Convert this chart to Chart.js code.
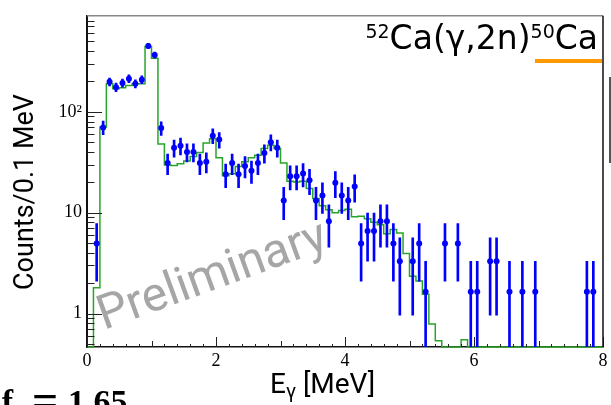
<!DOCTYPE html>
<html>
<head>
<meta charset="utf-8">
<script src="https://cdn.jsdelivr.net/npm/chart.js@4.4.1/dist/chart.umd.min.js"></script>
<style>
  body { margin: 0; background: #fff; }
  canvas { display: block; }
</style>
</head>
<body>
<canvas id="spectrum" width="611" height="405"></canvas>
<script>
// 0.1 MeV bins from 0 to 8 MeV
var binWidth = 0.1;
var nBins = 80;
var countScale = 1.65;

// measured spectrum (counts times f), 0 = empty bin
var counts = [
  0, 4.95, 70, 198, 175, 193, 213, 190, 208, 449,
  365, 69, 31, 44, 46, 40, 40, 31, 32, 58,
  53, 24, 31, 24, 29, 26, 31, 39, 50, 44,
  13.2, 23, 23, 24.4, 21, 13.2, 14.8, 8.25, 19.8, 14.8,
  13.2, 18.2, 4.95, 6.6, 6.6, 8.25, 8.25, 4.95, 3.3, 0,
  3.3, 4.95, 1.65, 0, 0, 4.95, 0, 4.95, 0, 1.65,
  1.65, 0, 3.3, 3.3, 0, 1.65, 0, 1.65, 0, 1.65,
  0, 0, 0, 0, 0, 0, 0, 1.65, 1.65, 0
];

// simulated response, same binning
var simulated = [
  0, 1.8, 70.6, 189, 169, 173, 182, 190, 190, 443,
  339, 48, 29.7, 29.3, 30.5, 32.6, 36, 39.4, 49, 54,
  35, 23.2, 24.3, 28.7, 32, 35, 37, 43.3, 46.6, 43.3,
  31, 20.5, 20.2, 20.5, 17.4, 13.8, 11.7, 10.7, 10, 10.5,
  10.8, 9.1, 9.2, 8.7, 8.05, 7.6, 6.2, 6.8, 6.3, 3.95,
  2.34, 2.1, 1.56, 0.79, 0.54, 0, 0, 0, 0.55, 0,
  0, 0, 0, 0, 0, 0, 0, 0, 0, 0,
  0, 0, 0, 0, 0, 0, 0, 0, 0, 0
];

var xTicks = [0, 2, 4, 6, 8];
var yTickValues = [1, 10, 100];
var yTickLabels = ['1', '10', '10\u00b2'];
var yMin = 0.467;
var yMax = 893;

// histogram outline: left bin edges, closed at 8 MeV
var histLine = [];
for (var i = 0; i < nBins; i++) {
  histLine.push({ x: i * binWidth, y: simulated[i] > 0 ? simulated[i] : yMin });
}
histLine.push({ x: nBins * binWidth, y: histLine[nBins - 1].y });

// data points at bin centres, Poisson errors on the scaled counts
var points = [];
var errors = [];
for (var j = 0; j < nBins; j++) {
  if (counts[j] <= 0) continue;
  var c = (j + 0.5) * binWidth;
  var err = Math.sqrt(counts[j] * countScale);
  points.push({ x: c, y: counts[j] });
  errors.push({ x: c, y: [Math.max(counts[j] - err, yMin), counts[j] + err] });
}

var decorations = {
  id: 'decorations',
  afterDatasetsDraw: function(chart) {
    var ctx = chart.ctx;
    var a = chart.chartArea;
    var xs = chart.scales.x;
    var ys = chart.scales.y;
    ctx.save();

    // inward ticks
    ctx.strokeStyle = '#222';
    ctx.lineWidth = 1;
    ctx.beginPath();
    for (var i = 0; i <= 40; i++) {
      var px = Math.round(xs.getPixelForValue(i * 0.2)) + 0.5;
      var len = i % 10 == 0 ? 10 : (i % 5 == 0 ? 6 : 3);
      ctx.moveTo(px, a.bottom);
      ctx.lineTo(px, a.bottom - len);
    }
    for (var e = -1; e <= 2; e++) {
      for (var m = 1; m <= 9; m++) {
        var v = m * Math.pow(10, e);
        if (v < yMin || v > yMax) continue;
        var py = Math.round(ys.getPixelForValue(v)) + 0.5;
        ctx.moveTo(a.left, py);
        ctx.lineTo(a.left + (m == 1 ? 15 : 7.5), py);
      }
    }
    ctx.stroke();

    // frame top and right
    ctx.strokeStyle = '#888';
    ctx.lineWidth = 1.5;
    ctx.beginPath();
    ctx.moveTo(a.left, a.top);
    ctx.lineTo(a.right, a.top);
    ctx.stroke();
    ctx.strokeStyle = '#111';
    ctx.beginPath();
    ctx.moveTo(a.right, a.top);
    ctx.lineTo(a.right, a.bottom);
    ctx.stroke();

    // axis titles
    ctx.fillStyle = '#000';
    ctx.font = '27px Roboto';
    ctx.textBaseline = 'alphabetic';
    ctx.save();
    ctx.translate(33, 192);
    ctx.rotate(-Math.PI / 2);
    ctx.textAlign = 'center';
    ctx.fillText('Counts/0.1 MeV', 0, 0);
    ctx.restore();

    ctx.textAlign = 'left';
    var tx = 270;
    ctx.font = '28px Roboto';
    ctx.fillText('E', tx, 393);
    tx += ctx.measureText('E').width;
    ctx.font = '20px Roboto';
    ctx.fillText('\u03b3', tx, 398);
    tx += ctx.measureText('\u03b3').width;
    ctx.font = '28px Roboto';
    ctx.fillText(' [MeV]', tx, 393);

    // reaction label, right aligned
    var parts = [
      { t: '52', f: '19px "DejaVu Sans"', y: 38 },
      { t: 'Ca(\u03b3,2n)', f: '33px "DejaVu Sans"', y: 49 },
      { t: '50', f: '19px "DejaVu Sans"', y: 38 },
      { t: 'Ca', f: '33px "DejaVu Sans"', y: 49 }
    ];
    var total = 0;
    parts.forEach(function(p) { ctx.font = p.f; p.w = ctx.measureText(p.t).width; total += p.w; });
    var lx = 598 - total;
    parts.forEach(function(p) { ctx.font = p.f; ctx.fillText(p.t, lx, p.y); lx += p.w; });

    ctx.fillStyle = '#ff9900';
    ctx.fillRect(535, 59, 67, 4);

    ctx.fillStyle = '#555';
    ctx.fillRect(609, 77, 2, 86);

    // scale factor, cut by the bottom edge
    ctx.fillStyle = '#000';
    ctx.font = 'bold 34px "Liberation Serif"';
    ctx.textAlign = 'right';
    ctx.fillText('f', 13, 413);
    ctx.textAlign = 'left';
    ctx.font = 'bold 46px "Liberation Serif"';
    ctx.fillText('=', 32, 416);
    ctx.font = 'bold 34px "Liberation Serif"';
    ctx.fillText('1.65', 68, 413);

    // watermark
    ctx.save();
    ctx.translate(104, 330);
    ctx.rotate(-20 * Math.PI / 180);
    ctx.fillStyle = '#a6a6a6';
    ctx.font = '48px Roboto';
    ctx.fillText('Preliminary', 0, 0);
    ctx.restore();

    ctx.restore();
  }
};

var chart = new Chart(document.getElementById('spectrum'), {
  type: 'line',
  data: {
    datasets: [{
      type: 'line',
      data: points,
      showLine: false,
      pointRadius: 3,
      pointBackgroundColor: '#0000ff',
      pointBorderWidth: 0,
      order: 1
    }, {
      type: 'bar',
      data: errors,
      backgroundColor: '#0000ff',
      borderWidth: 0,
      barThickness: 2,
      grouped: false,
      order: 2
    }, {
      type: 'line',
      data: histLine,
      stepped: 'before',
      borderColor: 'rgb(40, 165, 40)',
      borderWidth: 1.5,
      pointRadius: 0,
      fill: false,
      clip: false,
      order: 3
    }]
  },
  options: {
    responsive: false,
    animation: false,
    layout: { padding: { top: 10, right: 8, left: 0, bottom: 0 } },
    plugins: { legend: { display: false }, tooltip: { enabled: false } },
    scales: {
      x: {
        type: 'linear',
        position: 'bottom',
        min: 0,
        max: 8,
        offset: false,
        grid: { display: false, drawTicks: false },
        border: { display: true, color: '#111', width: 1.5 },
        ticks: {
          padding: 3,
          color: '#000',
          font: { family: 'Liberation Serif', size: 18 },
          autoSkip: false,
          maxRotation: 0,
          callback: function(v) { return String(v); }
        },
        afterBuildTicks: function(s) {
          s.ticks = xTicks.map(function(v) { return { value: v }; });
        },
        afterFit: function(s) { s.height = 58; }
      },
      y: {
        type: 'logarithmic',
        position: 'left',
        min: yMin,
        max: yMax,
        grid: { display: false, drawTicks: false },
        border: { display: true, color: '#111', width: 2 },
        ticks: {
          padding: 5,
          color: '#000',
          font: { family: 'Liberation Serif', size: 18 },
          autoSkip: false,
          callback: function(v, idx) { return yTickLabels[idx]; }
        },
        afterBuildTicks: function(s) {
          s.ticks = yTickValues.map(function(v) { return { value: v }; });
        },
        afterFit: function(s) { s.width = 87; }
      }
    }
  },
  plugins: [decorations]
});
</script>
</body>
</html>
